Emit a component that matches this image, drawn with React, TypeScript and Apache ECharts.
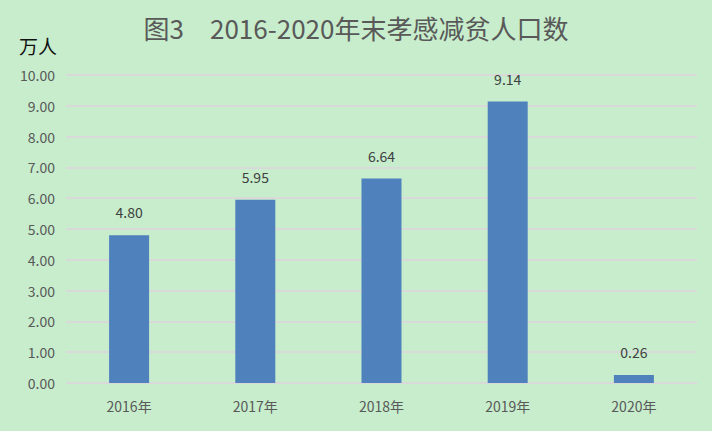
import React, { useEffect, useRef } from "react";
import * as echarts from "echarts";

const title = "图3　2016-2020年末孝感减贫人口数";
const unit = "万人";
const categories = ["2016年", "2017年", "2018年", "2019年", "2020年"];
const values = [4.8, 5.95, 6.64, 9.14, 0.26];

const FONT = "'Noto Sans CJK SC', 'Noto Sans', sans-serif";

export default function App() {
  const ref = useRef<HTMLDivElement>(null);
  useEffect(() => {
    if (!ref.current) return;
    const chart = echarts.init(ref.current, null, { renderer: "svg" });
    chart.setOption({
      animation: false,
      backgroundColor: "#C7EDCC",
      title: {
        text: title,
        left: "center",
        top: 9,
        textStyle: { fontFamily: FONT, fontSize: 26, fontWeight: "normal", color: "#595959" },
      },
      graphic: [
        {
          type: "text",
          left: 19,
          top: 36,
          style: { text: unit, fontFamily: FONT, fontSize: 19, fontWeight: "normal", fill: "#111" },
        },
      ],
      grid: { left: 66, right: 15, top: 75, bottom: 48, containLabel: false },
      xAxis: {
        type: "category",
        data: categories,
        axisLine: { show: false },
        axisTick: { show: false },
        axisLabel: { fontFamily: FONT, fontSize: 14, color: "#595959", margin: 16 },
      },
      yAxis: {
        type: "value",
        min: 0,
        max: 10,
        interval: 1,
        axisLine: { show: false },
        axisTick: { show: false },
        splitLine: { lineStyle: { color: "#D9D9D9", width: 2 } },
        axisLabel: {
          fontFamily: FONT,
          fontSize: 14,
          color: "#595959",
          margin: 11,
          formatter: (v: number) => v.toFixed(2),
        },
      },
      series: [
        {
          type: "bar",
          data: values,
          barWidth: 40,
          itemStyle: { color: "#4F81BD" },
          label: {
            show: true,
            position: "top",
            distance: 16,
            fontFamily: FONT,
            fontSize: 14,
            color: "#404040",
            formatter: (p: any) => Number(p.value).toFixed(2),
          },
        },
      ],
    });
    return () => chart.dispose();
  }, []);
  return <div ref={ref} style={{ width: 712, height: 431, position: "fixed", left: 0, top: 0 }} />;
}
